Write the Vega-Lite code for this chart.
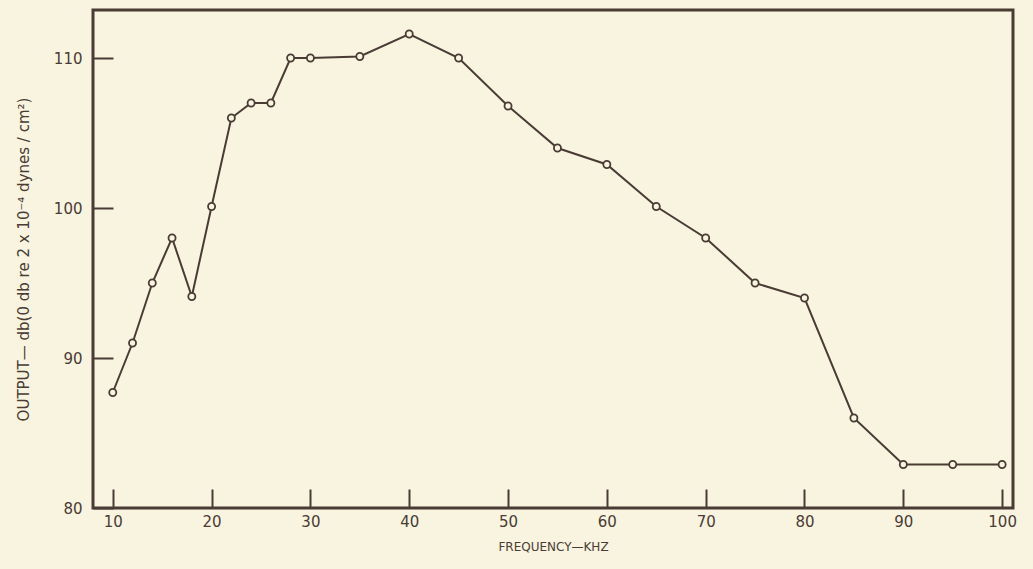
{
  "$schema": "https://vega.github.io/schema/vega-lite/v6.json",
  "width": 920,
  "height": 498,
  "autosize": {"type": "none"},
  "padding": {"left": 93, "top": 10, "right": 20, "bottom": 61},
  "background": "#f8f4df",
  "config": {
    "view": {"stroke": "#4a3b35", "strokeWidth": 3},
    "axis": {
      "labelFont": "DejaVu Sans",
      "titleFont": "DejaVu Sans",
      "labelColor": "#4a3b35",
      "titleColor": "#4a3b35",
      "tickColor": "#4a3b35",
      "grid": false,
      "domain": false,
      "tickWidth": 2
    }
  },
  "data": {
    "values": [
      {"f": 10, "db": 87.7},
      {"f": 12, "db": 91.0},
      {"f": 14, "db": 95.0},
      {"f": 16, "db": 98.0},
      {"f": 18, "db": 94.1},
      {"f": 20, "db": 100.1},
      {"f": 22, "db": 106.0},
      {"f": 24, "db": 107.0},
      {"f": 26, "db": 107.0},
      {"f": 28, "db": 110.0},
      {"f": 30, "db": 110.0},
      {"f": 35, "db": 110.1},
      {"f": 40, "db": 111.6},
      {"f": 45, "db": 110.0},
      {"f": 50, "db": 106.8},
      {"f": 55, "db": 104.0},
      {"f": 60, "db": 102.9},
      {"f": 65, "db": 100.1},
      {"f": 70, "db": 98.0},
      {"f": 75, "db": 95.0},
      {"f": 80, "db": 94.0},
      {"f": 85, "db": 86.0},
      {"f": 90, "db": 82.9},
      {"f": 95, "db": 82.9},
      {"f": 100, "db": 82.9}
    ]
  },
  "encoding": {
    "x": {
      "field": "f",
      "type": "quantitative",
      "scale": {"domain": [8, 101.1], "nice": false, "zero": false},
      "axis": {
        "values": [10, 20, 30, 40, 50, 60, 70, 80, 90, 100],
        "tickSize": -19,
        "labelPadding": 25,
        "labelFontSize": 15,
        "title": "FREQUENCY—KHZ",
        "titleFontSize": 12,
        "titleFontWeight": "normal",
        "titlePadding": 12
      }
    },
    "y": {
      "field": "db",
      "type": "quantitative",
      "scale": {"domain": [80, 113.2], "nice": false, "zero": false},
      "axis": {
        "values": [80, 90, 100, 110],
        "tickSize": -20,
        "labelPadding": 31,
        "labelFontSize": 15,
        "title": "OUTPUT—  db(0 db re 2 x 10⁻⁴ dynes / cm²)",
        "titleFontSize": 15,
        "titleFontWeight": "normal",
        "titlePadding": 22
      }
    }
  },
  "layer": [
    {"mark": {"type": "line", "color": "#4a3b35", "strokeWidth": 2}},
    {"mark": {"type": "point", "shape": "circle", "size": 50, "filled": true, "fill": "#f8f4df", "stroke": "#4a3b35", "strokeWidth": 1.8, "opacity": 1}}
  ]
}
